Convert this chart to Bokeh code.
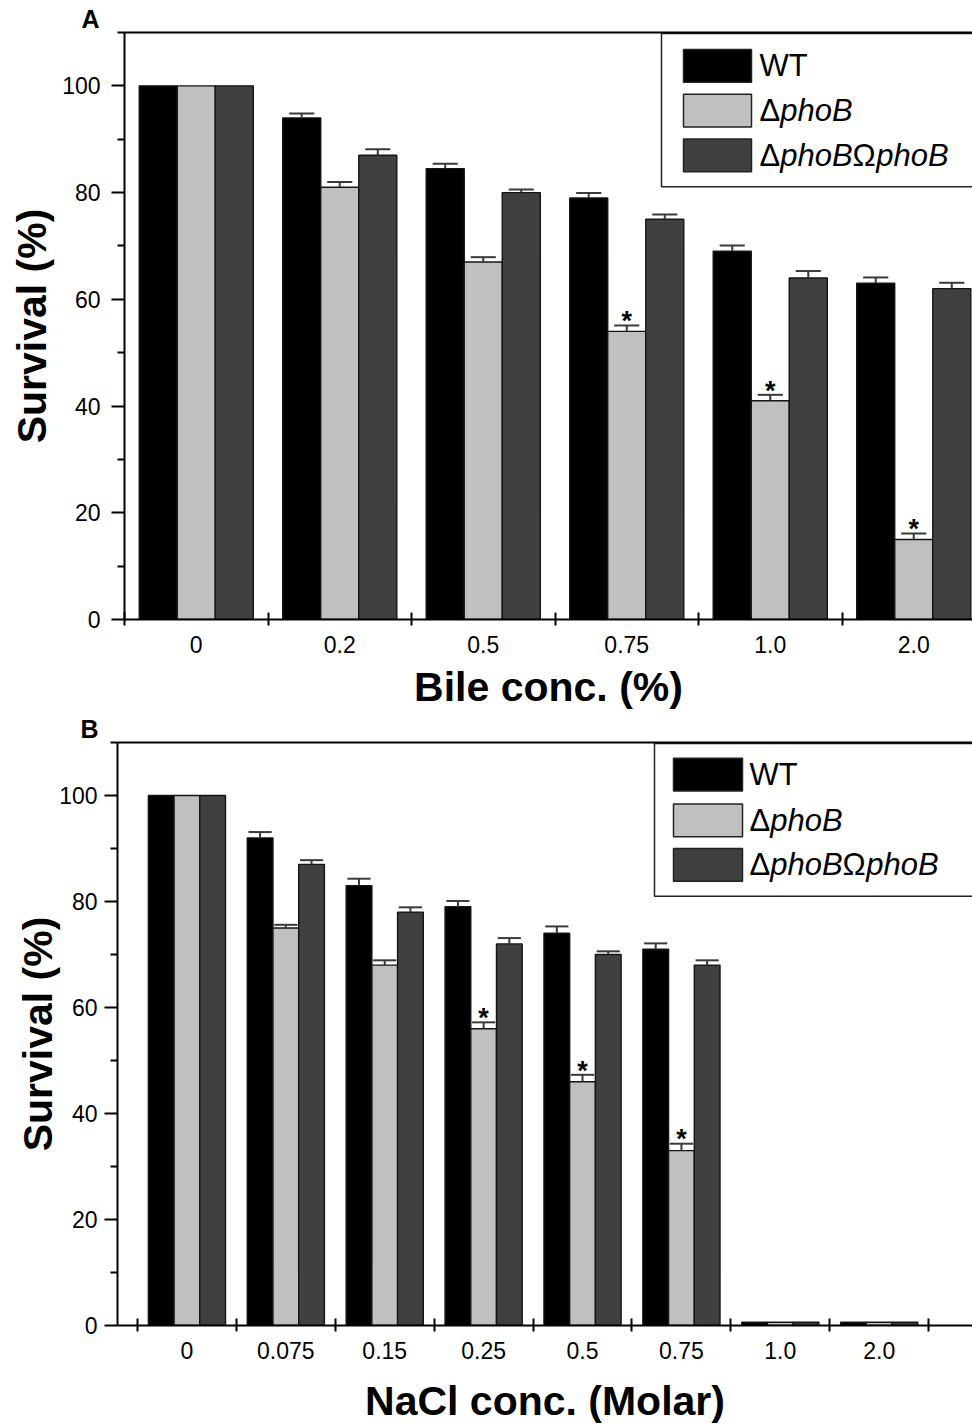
from bokeh.plotting import figure
from bokeh.models import FixedTicker, LinearAxis, Range1d
from bokeh.layouts import column, row
from bokeh.embed import file_html
from bokeh.resources import INLINE
from bokeh.core.properties import value

FONT = "Liberation Sans"

# ---------------- data ----------------
series_names = ["WT", "ΔphoB", "ΔphoBΩphoB"]
series_colors = ["#000000", "#c0c0c0", "#404040"]

bile_labels = ["0", "0.2", "0.5", "0.75", "1.0", "2.0"]
bile_wt = [100, 94, 84.5, 79, 69, 63]
bile_wt_err = [0, 0.8, 0.9, 0.9, 1.1, 1.1]
bile_phob = [100, 81, 67, 54, 41, 15]
bile_phob_err = [0, 1.0, 0.9, 1.1, 1.1, 1.1]
bile_comp = [100, 87, 80, 75, 64, 62]
bile_comp_err = [0, 1.1, 0.6, 0.9, 1.3, 1.1]
bile_sig = [False, False, False, True, True, True]

nacl_labels = ["0", "0.075", "0.15", "0.25", "0.5", "0.75", "1.0", "2.0"]
nacl_wt = [100, 92, 83, 79, 74, 71, 0.6, 0.6]
nacl_wt_err = [0, 1.1, 1.3, 1.1, 1.3, 1.1, 0, 0]
nacl_phob = [100, 75, 68, 56, 46, 33, 0.6, 0.6]
nacl_phob_err = [0, 0.6, 0.9, 1.2, 1.3, 1.3, 0, 0]
nacl_comp = [100, 87, 78, 72, 70, 68, 0.6, 0.6]
nacl_comp_err = [0, 0.8, 0.9, 1.1, 0.6, 0.9, 0, 0]
nacl_sig = [False, False, False, True, True, True, False, False]

y_major = [0, 20, 40, 60, 80, 100]
y_minor = [10, 30, 50, 70, 90, 110]
Y_MAX = 110


def build(labels, vals, errs, sig, xlabel, letter, g):
    n = len(labels)
    fl, ft, fb = g["left"], g["top"], g["height"] - g["bottom"]
    fw = 972 - fl
    fh = fb - ft
    ppx = g["ppx"]
    x0 = g["x_start"]
    x1 = x0 + fw / ppx
    ppy = fh / Y_MAX

    def dx(px):  # frame-relative pixel -> data x
        return x0 + px / ppx

    def dy(py):  # frame-relative pixel (from top) -> data y
        return Y_MAX - py / ppy

    p = figure(width=972, height=g["height"], output_backend="svg",
               toolbar_location=None, x_range=Range1d(x0, x1),
               y_range=Range1d(0, Y_MAX), min_border_left=fl,
               min_border_right=0, min_border_top=ft,
               min_border_bottom=g["bottom"], x_axis_location=None,
               y_axis_location=None, title=letter)
    p.outline_line_color = None
    p.grid.visible = False
    p.background_fill_color = "white"
    p.border_fill_color = "white"
    p.title.text_font = FONT
    p.title.text_font_size = "25px"
    p.title.text_font_style = "bold"
    p.title.text_color = "black"
    p.title.align = "left"
    p.title.offset = g["title_off"]
    p.title.standoff = g["title_stand"]

    bw = g["bw"]
    offsets = [-bw, 0, bw]
    centers = [i + 0.5 for i in range(n)]
    for k in range(3):
        xs = [c + offsets[k] for c in centers]
        p.vbar(x=xs, top=vals[k], width=bw, bottom=0,
               fill_color=series_colors[k], line_color="#141414",
               line_width=1.4)
        ex = [x for x, e in zip(xs, errs[k]) if e > 0]
        ev = [v for v, e in zip(vals[k], errs[k]) if e > 0]
        et = [v + e for v, e in zip(vals[k], errs[k]) if e > 0]
        cw = g["cap"] * bw / 2
        p.segment(x0=ex, y0=ev, x1=ex, y1=et, line_color="#3a3a3a",
                  line_width=2)
        p.segment(x0=[x - cw for x in ex], y0=et, x1=[x + cw for x in ex],
                  y1=et, line_color="#3a3a3a", line_width=2)

    sx = [c + offsets[1] for c, s in zip(centers, sig) if s]
    sy = [v + e + 0.8 for v, e, s in zip(vals[1], errs[1], sig) if s]
    p.text(x=sx, y=sy, text=["*"] * len(sx), text_align="center",
           text_baseline="middle", text_font=value(FONT),
           text_font_size="27px", text_font_style="bold", text_color="black")

    # axes
    xax = LinearAxis(ticker=FixedTicker(ticks=centers,
                                        minor_ticks=list(range(n + 1))))
    xax.major_label_overrides = {c: l for c, l in zip(centers, labels)}
    xax.major_tick_in = 0
    xax.major_tick_out = 0
    xax.minor_tick_in = 7
    xax.minor_tick_out = 6
    xax.minor_tick_line_width = 2
    xax.minor_tick_line_color = "black"
    xax.axis_line_width = 2
    xax.axis_line_color = "black"
    xax.major_label_text_font = FONT
    xax.major_label_text_font_size = "23px"
    xax.major_label_text_color = "black"
    xax.major_label_standoff = g["xstand"]
    xax.axis_label = xlabel
    xax.axis_label_text_font = FONT
    xax.axis_label_text_font_size = "41px"
    xax.axis_label_text_font_style = "bold"
    xax.axis_label_text_color = "black"
    xax.axis_label_standoff = g["xlstand"]
    p.add_layout(xax, "below")

    yax = LinearAxis(ticker=FixedTicker(ticks=y_major, minor_ticks=y_minor))
    yax.major_tick_in = 0
    yax.major_tick_out = 13
    yax.minor_tick_in = 0
    yax.minor_tick_out = 7
    yax.major_tick_line_width = 2
    yax.minor_tick_line_width = 2
    yax.major_tick_line_color = "black"
    yax.minor_tick_line_color = "black"
    yax.axis_line_width = 2
    yax.axis_line_color = "black"
    yax.major_label_text_font = FONT
    yax.major_label_text_font_size = "23px"
    yax.major_label_text_color = "black"
    yax.major_label_standoff = g["ystand"]
    yax.axis_label = "Survival (%)"
    yax.axis_label_text_font = FONT
    yax.axis_label_text_font_size = "41px"
    yax.axis_label_text_font_style = "bold"
    yax.axis_label_text_color = "black"
    yax.axis_label_standoff = g["ylstand"]
    p.add_layout(yax, "left")

    top = LinearAxis(ticker=FixedTicker(ticks=[]))
    top.major_label_text_font_size = "0px"
    top.major_tick_out = 0
    top.major_tick_in = 0
    top.minor_tick_out = 0
    top.minor_tick_in = 0
    top.axis_line_width = 2
    top.axis_line_color = "black"
    top.major_label_standoff = 0
    p.add_layout(top, "above")

    # legend (drawn manually so that gene names are italic)
    L = g["leg"]
    p.quad(left=[dx(L["box_left"])], right=[dx(fw + 20)],
           top=[dy(L["box_top"])], bottom=[dy(L["box_bottom"])],
           fill_color="white", line_color="#222222", line_width=1.5)
    fs = 31
    for k in range(3):
        t0 = L["sw_tops"][k]
        p.quad(left=[dx(L["sw_left"])], right=[dx(L["sw_left"] + L["sw_w"])],
               top=[dy(t0)], bottom=[dy(t0 + 33)],
               fill_color=series_colors[k], line_color="#222222",
               line_width=1.5)
        ymid = dy(t0 + 16.5)
        name = series_names[k]
        parts = []
        buf = ""
        for ch in name:
            if ch in "ΔΩ":
                if buf:
                    parts.append((buf, "italic"))
                    buf = ""
                parts.append((ch, "normal"))
            else:
                buf += ch
        if buf:
            parts.append((buf, "normal" if name == "WT" else "italic"))
        cur = L["text_x"]
        adv = {"Δ": 0.668, "Ω": 0.765, "phoB": 2.335, "WT": 1.555}
        for txt, style in parts:
            p.text(x=[dx(cur)], y=[ymid], text=[txt], text_align="left",
                   text_baseline="middle", text_font=value(FONT),
                   text_font_size=f"{fs}px", text_font_style=style,
                   text_color="black")
            cur += adv.get(txt, 1.0) * fs
    return p


geoA = dict(height=712, left=124, top=32, bottom=90, ppx=143.5, x_start=0.0,
            bw=0.265, cap=0.66, xstand=10, xlstand=8, ystand=11, ylstand=4,
            title_off=-43, title_stand=0,
            leg=dict(box_left=537, box_top=1, box_bottom=155, sw_left=559,
                     sw_w=68, sw_tops=[17, 62, 107], text_x=635))
geoB = dict(height=714, left=117, top=30, bottom=714 - 618, ppx=98.9,
            x_start=-0.202, bw=0.26, cap=0.9, xstand=10, xlstand=16,
            ystand=7, ylstand=-5, title_off=-37, title_stand=0,
            leg=dict(box_left=537, box_top=1, box_bottom=155, sw_left=556,
                     sw_w=69, sw_tops=[16, 62, 107], text_x=632))

pA = build(bile_labels, [bile_wt, bile_phob, bile_comp],
           [bile_wt_err, bile_phob_err, bile_comp_err], bile_sig,
           "Bile conc. (%)", "A", geoA)
pB = build(nacl_labels, [nacl_wt, nacl_phob, nacl_comp],
           [nacl_wt_err, nacl_phob_err, nacl_comp_err], nacl_sig,
           "NaCl conc. (Molar)", "B", geoB)

layout = column(row(pA), row(pB), spacing=0)
open("out.html", "w").write(file_html(layout, INLINE))
